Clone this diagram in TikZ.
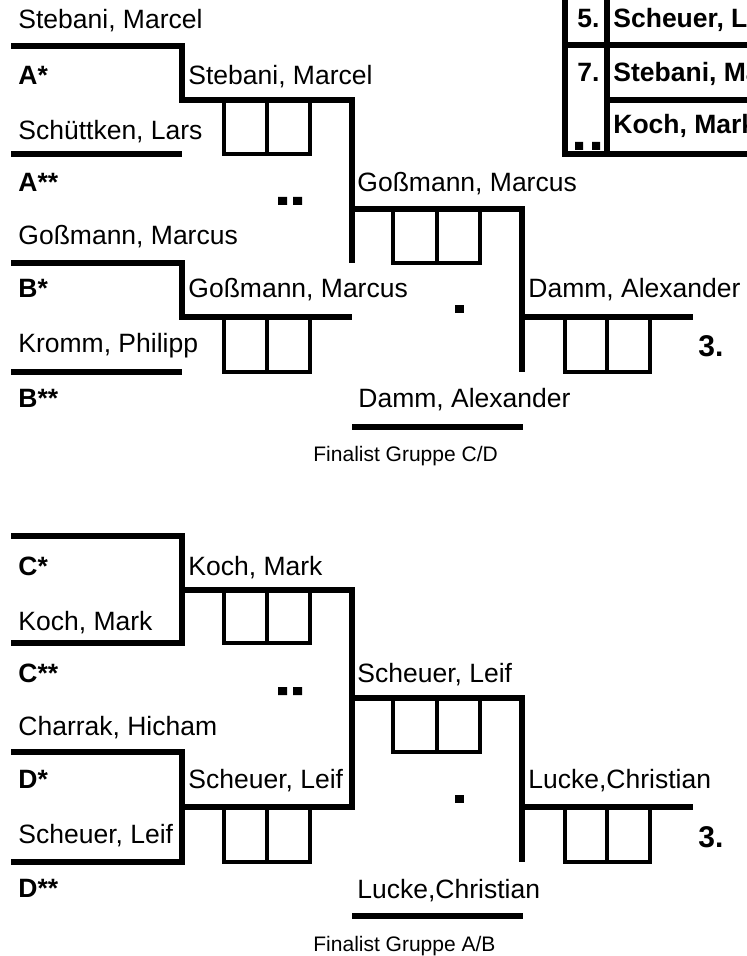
\documentclass[tikz,border=0pt]{standalone}
\usepackage{fontspec}
\setmainfont{Liberation Sans}
\tikzset{
  thk/.style={line width=3.25pt},
  thn/.style={line width=1.6pt},
  nm/.style={anchor=base west, inner sep=0pt, font=\fontsize{13.25}{15}\selectfont},
  bl/.style={anchor=base west, inner sep=0pt, font=\fontsize{13.25}{15}\selectfont\bfseries},
  plc/.style={anchor=base west, inner sep=0pt, font=\fontsize{15}{17}\selectfont\bfseries},
  fin/.style={anchor=base west, inner sep=0pt, font=\fontsize{10.5}{12}\selectfont},
  sq/.style={fill=black, draw=none}
}
\begin{document}
\begin{tikzpicture}[x=0.5pt,y=-0.5pt]
\useasboundingbox (0,0) rectangle (747,956);
\fill[white] (0,0) rectangle (747,956);
\clip (0,0) rectangle (747,956);

% ===== Top section =====
\draw[thk] (11,46) -| (182,100) -- (352,100) -- (352,263);
\draw[thk] (11,154) -- (182,154);
\draw[thk] (11,263) -| (182,317) -- (352,317);
\draw[thk] (11,372) -- (182,372);
\draw[thk] (352,209) -- (522,209) -- (522,372);
\draw[thk] (522,317) -- (693,317);
\draw[thk] (352,427) -- (523,427);
% boxes
\draw[thn] (224,100) rectangle (310,154) (267,100) -- (267,154);
\draw[thn] (224,317) rectangle (310,372) (267,317) -- (267,372);
\draw[thn] (393,209) rectangle (480,263) (437,209) -- (437,263);
\draw[thn] (565,317) rectangle (650,372) (607,317) -- (607,372);
% dots
\fill[sq] (278,197) rectangle (287,205) (293,197) rectangle (302,205);
\fill[sq] (455,305) rectangle (464,313);

% table top right
\draw[thk] (565,-10) -- (565,154) -- (760,154);
\draw[thk] (607,-10) -- (607,154);
\draw[thk] (565,45) -- (760,45);
\draw[thk] (607,100) -- (760,100);
\fill[sq] (575,142) rectangle (583,150) (592,142) rectangle (600,150);
\node[bl] (t5) at (577,28) {5.};
\node[bl] (t5n) at (613,28) {Scheuer, Leif};
\node[bl] (t7) at (577,82) {7.};
\node[bl] (t7n) at (613,82) {Stebani, Marcel};
\node[bl] (t9n) at (613,134) {Koch, Mark};

% texts top
\node[nm] (a1) at (18,29) {Stebani, Marcel};
\node[bl] (la) at (18,85) {A*};
\node[nm] (r1a) at (188,85) {Stebani, Marcel};
\node[nm] (a2) at (18,140) {Schüttken, Lars};
\node[bl] (laa) at (18,192) {A**};
\node[nm] (r2a) at (357,192) {Goßmann, Marcus};
\node[nm] (b1) at (18,245) {Goßmann, Marcus};
\node[bl] (lb) at (18,298) {B*};
\node[nm] (r1b) at (188,298) {Goßmann, Marcus};
\node[nm] (r3a) at (528,298) {Damm, Alexander};
\node[nm] (b2) at (18,353) {Kromm, Philipp};
\node[plc] (p3a) at (698,357) {3.};
\node[bl] (lbb) at (18,407) {B**};
\node[nm] (fa) at (358,408) {Damm, Alexander};
\node[fin] (fina) at (313,461) {Finalist Gruppe C/D};

% ===== Bottom section =====
\draw[thk] (11,536) -| (182,643) -- (11,643);
\draw[thk] (182,590) -- (352,590) -- (352,807) -- (182,807);
\draw[thk] (11,752) -| (182,862) -- (11,862);
\draw[thk] (352,698) -- (522,698) -- (522,862);
\draw[thk] (522,807) -- (693,807);
\draw[thk] (352,916) -- (523,916);
% boxes
\draw[thn] (224,590) rectangle (310,643) (267,590) -- (267,643);
\draw[thn] (224,807) rectangle (310,862) (267,807) -- (267,862);
\draw[thn] (393,698) rectangle (480,752) (437,698) -- (437,752);
\draw[thn] (565,807) rectangle (650,862) (607,807) -- (607,862);
% dots
\fill[sq] (278,687) rectangle (287,695) (293,687) rectangle (302,695);
\fill[sq] (455,795) rectangle (464,803);

% texts bottom
\node[bl] (lc) at (18,575) {C*};
\node[nm] (r1c) at (188,575) {Koch, Mark};
\node[nm] (c2) at (18,630) {Koch, Mark};
\node[bl] (lcc) at (18,682) {C**};
\node[nm] (r2c) at (357,682) {Scheuer, Leif};
\node[nm] (d1) at (18,735) {Charrak, Hicham};
\node[bl] (ld) at (18,788) {D*};
\node[nm] (r1d) at (188,788) {Scheuer, Leif};
\node[nm] (r3c) at (528,788) {Lucke,Christian};
\node[nm] (d2) at (18,843) {Scheuer, Leif};
\node[plc] (p3c) at (698,847) {3.};
\node[bl] (ldd) at (18,897) {D**};
\node[nm] (fc) at (357,898) {Lucke,Christian};
\node[fin] (finc) at (313,951) {Finalist Gruppe A/B};
\end{tikzpicture}
\end{document}
